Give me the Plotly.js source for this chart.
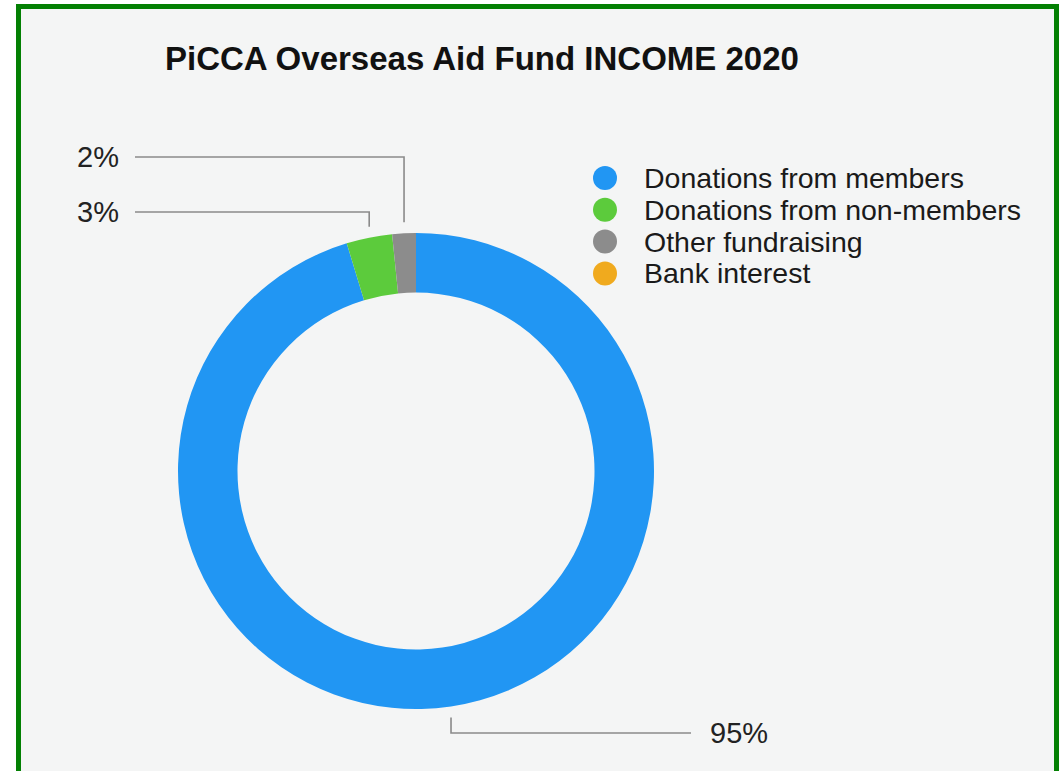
<!DOCTYPE html>
<html>
<head>
<meta charset="utf-8">
<script src="https://cdn.plot.ly/plotly-3.0.1.min.js"></script>
<style>
  html, body { margin: 0; padding: 0; background: #ffffff; }
  #chart { width: 1062px; height: 771px; }
</style>
</head>
<body>
<div id="chart"></div>
<script>
// ---- data ----
const categories = ['Donations from members', 'Donations from non-members', 'Other fundraising', 'Bank interest'];
const values = [95.3, 3.1, 1.6, 0];
const colors = ['#2196f3', '#5ccb3c', '#8c8c8c', '#f0aa1e'];
const chartTitle = 'PiCCA Overseas Aid Fund INCOME 2020';

// ---- layout geometry (pixels) ----
const W = 1062, H = 771;
const cx = 416, cy = 471, R = 238;
const px = x => x / W;
const py = y => 1 - y / H;
const FONT = 'Liberation Sans, Arial, Helvetica, sans-serif';

const total = values.reduce((a, b) => a + b, 0);

// leader label placement per slice (layout only)
const labelPlacement = [
  {side: 'bottom', labelY: 733, lineEndX: 691, textX: 708},
  {side: 'top', labelY: 212, lineEndX: 135, textX: 121},
  {side: 'top', labelY: 157, lineEndX: 135, textX: 121},
  null
];

const shapes = [];
const annotations = [];

// background panel with green frame
shapes.push({
  type: 'rect', xref: 'paper', yref: 'paper', layer: 'below',
  x0: px(18.5), x1: px(1056.5), y0: py(790), y1: py(6.5),
  line: {color: '#038003', width: 5}, fillcolor: '#f4f5f5'
});

// leader lines and percentage labels computed from slice angles (clockwise from 12 o'clock)
let cum = 0;
values.forEach((v, i) => {
  const mid = (cum + v / 2) / total * 2 * Math.PI;
  cum += v;
  const p = labelPlacement[i];
  if (!p || v <= 0) return;
  const x = cx + R * Math.sin(mid);
  const yEdge = cy - R * Math.cos(mid);
  const gap = 11;
  const y0 = p.side === 'top' ? yEdge - gap : yEdge + gap;
  const path = `M ${px(x)},${py(y0)} L ${px(x)},${py(p.labelY)} L ${px(p.lineEndX)},${py(p.labelY)}`;
  shapes.push({
    type: 'path', xref: 'paper', yref: 'paper', path: path,
    line: {color: '#8a8a8a', width: 1.6}
  });
  annotations.push({
    xref: 'paper', yref: 'paper', x: px(p.textX), y: py(p.labelY),
    xanchor: p.side === 'top' ? 'right' : 'left', yanchor: 'middle',
    text: Math.round(v / total * 100) + '%', showarrow: false,
    font: {family: FONT, size: 29, color: '#222222'}
  });
});

// legend (circle markers)
const legX = 605, legY0 = 178, legStep = 31.8, legR = 12;
categories.forEach((c, i) => {
  const y = legY0 + i * legStep;
  shapes.push({
    type: 'circle', xref: 'paper', yref: 'paper',
    x0: px(legX - legR), x1: px(legX + legR), y0: py(y + legR), y1: py(y - legR),
    line: {width: 0}, fillcolor: colors[i]
  });
  annotations.push({
    xref: 'paper', yref: 'paper', x: px(642), y: py(y), xanchor: 'left', yanchor: 'middle',
    text: c, showarrow: false, font: {family: FONT, size: 28.5, color: '#1a1a1a'}
  });
});

const trace = {
  type: 'pie',
  labels: categories,
  values: values,
  hole: 0.75,
  sort: false,
  direction: 'clockwise',
  rotation: 0,
  textinfo: 'none',
  hoverinfo: 'label+percent',
  marker: {colors: colors, line: {width: 0}},
  showlegend: false,
  domain: {x: [px(cx - R), px(cx + R)], y: [py(cy + R), py(cy - R)]}
};

const layout = {
  width: W, height: H,
  margin: {l: 0, r: 0, t: 0, b: 0},
  paper_bgcolor: '#ffffff',
  showlegend: false,
  title: {
    text: '<b>' + chartTitle + '</b>',
    x: px(165), xanchor: 'left', xref: 'paper',
    y: py(58), yanchor: 'middle', yref: 'paper',
    font: {family: FONT, size: 33, color: '#111111'}
  },
  shapes: shapes,
  annotations: annotations
};

Plotly.newPlot('chart', [trace], layout, {displayModeBar: false, staticPlot: true});
</script>
</body>
</html>
